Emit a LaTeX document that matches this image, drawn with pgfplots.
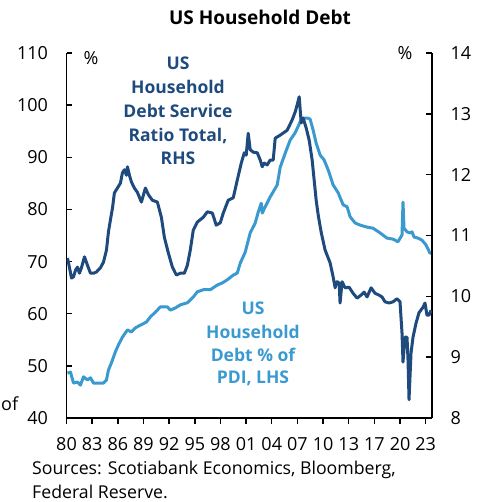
\documentclass[border=0pt]{standalone}
\usepackage{pgfplots}
\pgfplotsset{compat=1.18}
\usepackage{fontspec}
\setmainfont{Open Sans}
\definecolor{dk}{RGB}{31,74,126}
\definecolor{lt}{RGB}{58,154,208}
\begin{document}
\begin{tikzpicture}
\useasboundingbox (0,0) rectangle (482pt,502pt);
\pgfplotsset{myax/.style={scale only axis, width=365.5pt, height=365pt,
  at={(66.5pt,84pt)}, anchor=south west, xmin=1980, xmax=2023.73,
  axis line style={line width=1.6pt, black},
  every tick/.style={black, line width=1.4pt}, major tick length=6pt,
  tick label style={font=\fontsize{18}{21}\selectfont}}}
% x axis
\begin{axis}[myax, ymin=0, ymax=1, axis y line=none, axis x line*=bottom, tick align=outside,
  xtick={1980,1983.07,1986.14,1989.21,1992.28,1995.35,1998.42,2001.49,2004.56,2007.63,2010.70,2013.77,2016.84,2019.91,2022.98},
  xticklabels={80,83,86,89,92,95,98,01,04,07,10,13,17,20,23},
  xticklabel style={yshift=-10pt}]
\end{axis}
% left axis: household debt % of PDI
\begin{axis}[myax, ymin=40, ymax=110, axis x line=none, axis y line*=left, tick align=inside,
  ytick={40,50,60,70,80,90,100,110}, yticklabels={40,50,60,70,80,90,100,110},
  yticklabel style={anchor=east, xshift=-15pt}]
\addplot[lt, line width=3pt, line join=round] coordinates {
(1980.12,48.6)(1980.48,48.8)(1980.84,46.7)(1981.31,46.9)(1981.67,46.3)(1982.03,47.9)(1982.51,47.3)(1982.87,47.7)(1983.23,46.7)(1983.70,46.7)(1984.42,46.7)(1984.78,47.3)(1985.02,49.2)(1985.38,50.6)(1985.85,52.7)(1986.21,54.0)(1986.69,55.5)(1987.29,56.9)(1987.77,56.5)(1988.24,57.3)(1988.84,57.8)(1989.56,58.4)(1990.04,59.4)(1990.63,60.3)(1991.23,61.3)(1991.59,61.3)(1992.07,61.3)(1992.42,60.7)(1993.02,61.1)(1993.62,61.7)(1994.46,62.1)(1995.17,63.2)(1995.65,64.2)(1996.37,64.6)(1997.20,64.6)(1998.04,65.5)(1998.64,65.9)(1999.23,66.5)(1999.95,67.4)(2000.43,67.8)(2000.79,69.7)(2001.38,71.8)(2001.98,75.5)(2002.58,77.4)(2002.94,79.5)(2003.30,81.2)(2003.42,79.3)(2003.77,80.5)(2004.37,82.4)(2004.85,83.7)(2005.21,84.7)(2005.57,88.1)(2006.17,90.8)(2006.76,93.3)(2007.36,94.7)(2007.96,96.8)(2008.31,97.5)(2008.91,97.5)(2009.15,97.3)(2009.51,95.2)(2009.87,92.7)(2010.35,90.4)(2010.82,89.5)(2011.30,87.6)(2011.90,84.7)(2012.50,83.2)(2013.09,80.9)(2013.57,80.5)(2013.93,78.6)(2014.53,77.4)(2015.12,77.0)(2015.96,76.6)(2016.68,76.4)(2017.51,75.5)(2018.35,74.5)(2019.07,74.3)(2019.66,73.8)(2020.14,75.1)(2020.26,81.4)(2020.38,76.4)(2020.74,75.7)(2021.10,75.5)(2021.34,75.7)(2021.58,74.7)(2022.05,74.5)(2022.53,74.1)(2023.01,73.2)(2023.49,71.6)(2023.61,71.6)
};
\end{axis}
% right axis: debt service ratio
\begin{axis}[myax, ymin=8, ymax=14, axis x line=none, axis y line*=right, tick align=inside,
  ytick={8,9,10,11,12,13,14}, yticklabels={8,9,10,11,12,13,14},
  yticklabel style={anchor=west, xshift=15pt}]
\addplot[dk, line width=3pt, line join=round] coordinates {
(1980.12,10.63)(1980.36,10.47)(1980.60,10.30)(1980.84,10.32)(1981.08,10.43)(1981.31,10.48)(1981.55,10.38)(1981.79,10.47)(1982.15,10.65)(1982.51,10.51)(1982.87,10.38)(1983.23,10.38)(1983.58,10.40)(1984.06,10.47)(1984.42,10.56)(1984.78,10.76)(1985.02,11.06)(1985.26,11.26)(1985.50,11.45)(1985.73,11.70)(1986.09,11.78)(1986.45,11.86)(1986.69,12.03)(1986.93,12.08)(1987.17,11.99)(1987.29,12.13)(1987.53,11.99)(1987.77,11.88)(1988.12,11.78)(1988.48,11.71)(1988.96,11.55)(1989.44,11.78)(1989.80,11.67)(1990.27,11.58)(1990.87,11.55)(1991.35,11.30)(1991.71,10.97)(1992.19,10.71)(1992.67,10.48)(1993.14,10.35)(1993.62,10.38)(1994.10,10.38)(1994.46,10.51)(1994.81,10.76)(1995.17,11.09)(1995.65,11.22)(1996.37,11.30)(1996.85,11.39)(1997.44,11.37)(1997.92,11.17)(1998.40,11.21)(1998.76,11.37)(1999.35,11.58)(1999.95,11.62)(2000.43,11.91)(2000.91,12.19)(2001.27,12.36)(2001.50,12.32)(2001.74,12.68)(2001.98,12.41)(2002.34,12.37)(2002.82,12.36)(2003.18,12.24)(2003.42,12.13)(2003.66,12.19)(2004.01,12.16)(2004.37,12.24)(2004.73,12.24)(2004.97,12.60)(2005.57,12.65)(2006.40,12.73)(2007.00,12.90)(2007.36,13.03)(2007.60,13.15)(2007.84,13.28)(2008.08,12.85)(2008.31,12.93)(2008.67,12.77)(2009.03,12.57)(2009.39,12.24)(2009.63,11.91)(2009.87,11.58)(2010.11,11.34)(2010.46,11.06)(2010.94,10.76)(2011.54,10.55)(2011.90,10.32)(2012.14,10.14)(2012.38,10.24)(2012.62,10.22)(2012.73,9.89)(2012.97,10.24)(2013.33,10.14)(2013.81,10.15)(2014.29,10.05)(2014.77,9.97)(2015.24,10.02)(2015.60,10.07)(2015.96,9.99)(2016.44,10.14)(2016.92,10.05)(2017.39,10.02)(2017.75,9.99)(2018.11,9.91)(2018.59,9.89)(2019.07,9.91)(2019.54,9.96)(2019.90,9.91)(2020.14,9.40)(2020.26,8.92)(2020.50,9.33)(2020.74,9.33)(2020.86,8.95)(2020.98,8.30)(2021.22,9.07)(2021.46,9.33)(2021.82,9.56)(2022.17,9.73)(2022.65,9.82)(2022.89,9.89)(2023.13,9.69)(2023.37,9.69)(2023.61,9.77)
};
\end{axis}
% texts
\node[font=\bfseries\fontsize{19}{23}\selectfont, anchor=base, inner sep=0] at (260pt,477pt) {US Household Debt};
\node[font=\fontsize{18}{21}\selectfont, anchor=base, inner sep=0] at (91pt,437pt) {\%};
\node[font=\fontsize{18}{21}\selectfont, anchor=base, inner sep=0] at (405pt,442pt) {\%};
\begin{scope}[every node/.style={font=\bfseries\fontsize{17.5}{20}\selectfont, anchor=base, inner sep=0, text=dk}]
\node at (178pt,432.7pt) {US};
\node at (178pt,408.7pt) {Household};
\node at (178pt,384.7pt) {Debt Service};
\node at (178pt,360.7pt) {Ratio Total,};
\node at (178pt,337.7pt) {RHS};
\end{scope}
\begin{scope}[every node/.style={font=\bfseries\fontsize{17.5}{20}\selectfont, anchor=base, inner sep=0, text=lt}]
\node at (253pt,187.7pt) {US};
\node at (253pt,163.7pt) {Household};
\node at (253pt,140.7pt) {Debt \% of};
\node at (253pt,118.7pt) {PDI, LHS};
\end{scope}
\node[font=\fontsize{18}{21}\selectfont, anchor=base west, inner sep=0] at (1pt,91pt) {of};
\node[font=\fontsize{17.7}{21}\selectfont, anchor=base west, inner sep=0] at (32pt,27pt) {Sources: Scotiabank Economics, Bloomberg,};
\node[font=\fontsize{17.7}{21}\selectfont, anchor=base west, inner sep=0] at (32pt,4pt) {Federal Reserve.};
\end{tikzpicture}
\end{document}
